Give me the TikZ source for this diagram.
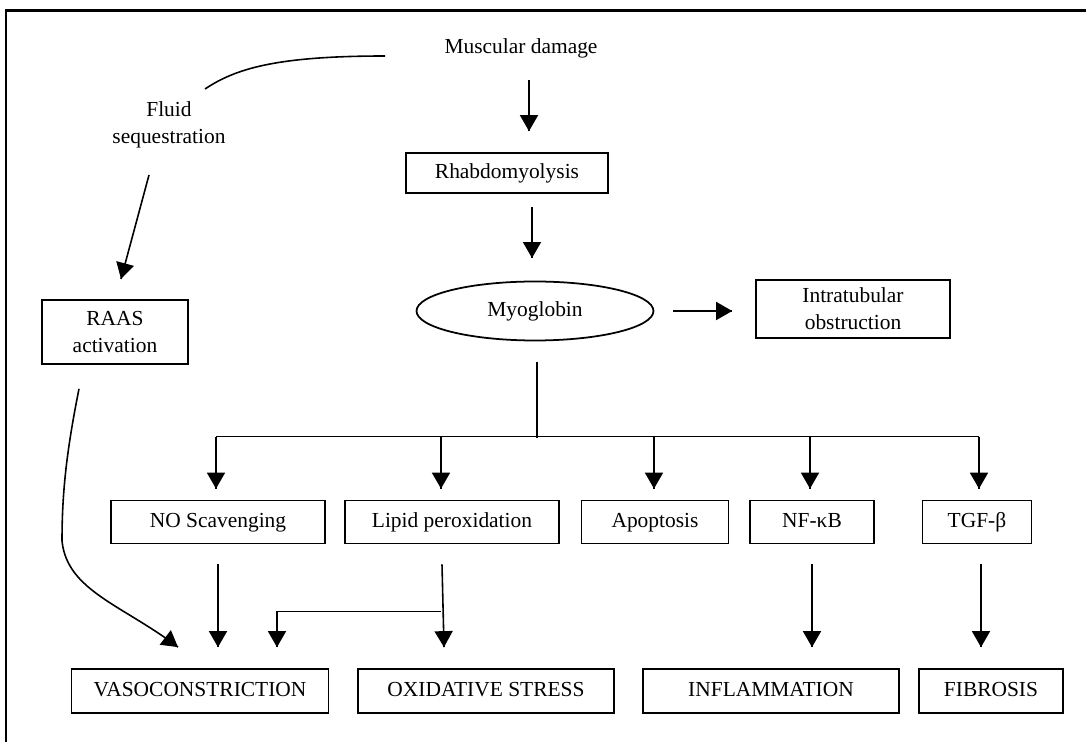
\documentclass[tikz,border=0pt]{standalone}
\usepackage{fontspec}
\setmainfont{Liberation Serif}
\usetikzlibrary{arrows}
\usetikzlibrary{decorations.markings}
\usetikzlibrary{positioning}
\usetikzlibrary{shapes.geometric}
\tikzset{->/.style = {decoration={markings,
                                  mark=at position 1 with {\arrow[scale=1.3]{triangle 60}}},
                      postaction={decorate}}}
\tikzset{box/.style = {draw, line width=1pt, align=center, inner sep=0pt},
         oval/.style = {draw, ellipse, line width=1pt, inner sep=0pt},
         txt/.style = {align=center, inner sep=0pt},
         caps/.style = {text height=0.66em, text depth=0pt}}

\begin{document}
\begin{tikzpicture}[x=0.02cm, y=-0.02cm, line width=0.9pt,
                    every node/.style={font=\fontsize{12.2}{15.4}\selectfont}]
      \useasboundingbox (0, 0) rectangle (1086, 742);
      \draw [line width=1.7pt] (6, 742) -- (6, 11) -- (1086, 11);
      % top part
      \node [txt, caps] (muscle) at (521, 48) {Muscular damage};
      \node [txt] (fluid) at (169, 125) {Fluid\\sequestration};
      \node [box, caps, minimum width=4.04cm, minimum height=0.8cm] (rhabdo) at (507, 173) {Rhabdomyolysis};
      \node [oval, caps, minimum width=4.74cm, minimum height=1.18cm] (myo) at (535, 311) {Myoglobin};
      \node [box, minimum width=3.88cm, minimum height=1.16cm] (intra) at (853, 309) {Intratubular\\obstruction};
      \node [box, minimum width=2.92cm, minimum height=1.28cm] (raas) at (115, 332) {RAAS\\activation};
      % second row
      \node [box, caps, minimum width=4.28cm, minimum height=0.86cm] (nosc) at (218, 522) {NO Scavenging};
      \node [box, caps, minimum width=4.28cm, minimum height=0.86cm] (lipid) at (452, 522) {Lipid peroxidation};
      \node [box, caps, minimum width=2.94cm, minimum height=0.86cm] (apop) at (655, 522) {Apoptosis};
      \node [box, caps, minimum width=2.48cm, minimum height=0.86cm] (nfkb) at (812, 522) {NF-κB};
      \node [box, caps, minimum width=2.18cm, minimum height=0.86cm] (tgf) at (977, 522) {TGF-β};
      % third row
      \node [box, caps, minimum width=5.14cm, minimum height=0.88cm] (vaso) at (200, 691) {VASOCONSTRICTION};
      \node [box, caps, minimum width=5.12cm, minimum height=0.88cm] (oxid) at (486, 691) {OXIDATIVE STRESS};
      \node [box, caps, minimum width=5.12cm, minimum height=0.88cm] (infl) at (771, 691) {INFLAMMATION};
      \node [box, caps, minimum width=2.88cm, minimum height=0.88cm] (fibr) at (991, 691) {FIBROSIS};
      % connectors
      \draw [->] ([shift={(8, 32)}]muscle.center) -- ([shift={(22, -21)}]rhabdo.north);
      \draw ([shift={(-136, 8)}]muscle.center) .. controls +(-110, 0) and +(30, -20) .. ([shift={(36, -36)}]fluid.center);
      \draw [->] ([shift={(-20, 50)}]fluid.center) -- ([shift={(6, -53)}]raas.center);
      \draw [->] ([shift={(25, 34)}]rhabdo.center) -- ([shift={(-3, -53)}]myo.center);
      \draw [->] ([shift={(19, 0)}]myo.east) -- ([shift={(-23, 2)}]intra.west);
      \draw ([shift={(2, 51)}]myo.center) -- ([shift={(2, 127)}]myo.center);
      \draw ([shift={(-2, -63)}]nosc.north) -- ([shift={(2, -63)}]tgf.north);
      \foreach \n/\dx in {nosc/-2, lipid/-11, apop/-1, nfkb/-2, tgf/2}
        \draw [->] ([shift={(\dx, -63)}]\n.north) -- ([shift={(\dx, -11)}]\n.north);
      \draw [->] ([shift={(0, 20)}]nosc.south) -- ([shift={(18, -21)}]vaso.north);
      \draw [->] ([shift={(-10, 20)}]lipid.south) -- ([shift={(-42, -21)}]oxid.north);
      \draw [->] ([shift={(-11, 67)}]lipid.south) -| ([shift={(77, -21)}]vaso.north);
      \draw [->] ([shift={(0, 20)}]nfkb.south) -- ([shift={(41, -21)}]infl.north);
      \draw [->] ([shift={(4, 20)}]tgf.south) -- ([shift={(-10, -21)}]fibr.north);
      \draw [->] ([shift={(-36, 24)}]raas.south) .. controls +(-12, 60) and +(0, -50) .. ++(-17, 152)
                 .. controls +(5, 50) and +(-55, -42) .. ([shift={(-22, -21)}]vaso.north);
    \end{tikzpicture}
\end{document}
